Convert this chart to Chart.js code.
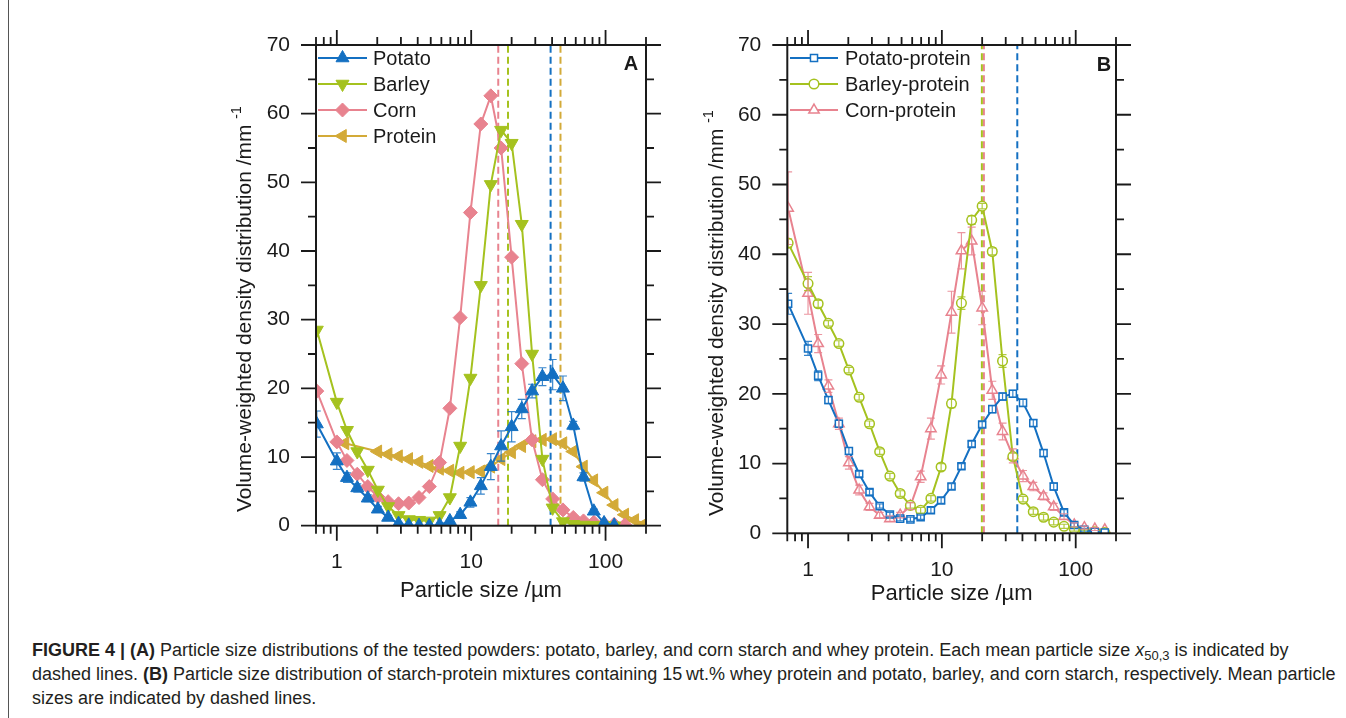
<!DOCTYPE html>
<html>
<head>
<meta charset="utf-8">
<script src="https://cdn.jsdelivr.net/npm/chart.js@4.4.1/dist/chart.umd.min.js"></script>
<style>
  html, body { margin: 0; padding: 0; background: #fff; }
  body { width: 1346px; height: 718px; position: relative; overflow: hidden; font-family: "Liberation Sans", Arial, sans-serif; }
  #frame { position: absolute; left: 8px; top: 0; height: 718px; border-left: 1.5px solid #555; }
  canvas { position: absolute; top: 0; }
  #chartA { left: 230px; }
  #chartB { left: 700px; }
  #caption { position: absolute; left: 32px; top: 638px; font-size: 18px; line-height: 24px; color: #231f20; white-space: nowrap; }
  #caption sub { font-size: 13px; vertical-align: -4px; line-height: 0; }
</style>
</head>
<body>
<div id="frame"></div>
<canvas id="chartA" width="440" height="610"></canvas>
<canvas id="chartB" width="440" height="610"></canvas>
<div id="caption">
<b>FIGURE 4 | (A)</b> Particle size distributions of the tested powders: potato, barley, and corn starch and whey protein. Each mean particle size <i>x</i><sub>50,3</sub> is indicated by<br>
dashed lines. <b>(B)</b> Particle size distribution of starch-protein mixtures containing 15&#8201;wt.% whey protein and potato, barley, and corn starch, respectively. Mean particle<br>
sizes are indicated by dashed lines.
</div>
<script>
const family = '"Liberation Sans", Arial, sans-serif';
Chart.defaults.font.family = family;
Chart.defaults.color = '#1a1a1a';

// axis limits and labelled ticks
const xRange = [0.7, 200];
const yRange = [0, 70];
const xTickLabels = [1, 10, 100];
const yTickLabels = [0, 10, 20, 30, 40, 50, 60, 70];

// particle size classes /µm
const sizeBins = [0.71, 1.00, 1.19, 1.42, 1.70, 2.02, 2.41, 2.88, 3.43, 4.09, 4.88, 5.82, 6.94, 8.28, 9.87, 11.8,
  14.0, 16.7, 20.0, 23.8, 28.4, 33.9, 40.4, 48.2, 57.5, 68.5, 81.8, 97.5, 116, 139, 165, 197];
// whey protein classes
const proteinSizes = [1.15, 2.02, 2.41, 2.88, 3.43, 4.09, 4.88, 5.82, 6.94, 8.28, 9.87, 11.8, 14.0, 16.7,
  20.0, 23.8, 28.4, 33.9, 40.4, 48.2, 57.5, 68.5, 81.8, 97.5, 116, 139, 165, 197];

// A: starches and whey protein, density /mm^-1
const potato = [14.8, 9.4, 7.0, 5.5, 4.0, 2.4, 1.2, 0.3, 0.05, 0, 0, 0.1, 0.7, 1.6, 3.4, 5.8,
  8.6, 11.6, 14.4, 17.0, 19.6, 21.7, 22.0, 20.0, 14.6, 7.1, 2.1, 0.4, 0.05, null, null, null];
const potatoErr = [1.9, 1.2, 0.7, 0.6, 0.5, 0.4, 0.3, 0.2, 0.1, 0, 0, 0.1, 0.2, 0.4, 0.7, 1.2,
  1.9, 2.2, 2.2, 1.4, 1.0, 1.3, 2.2, 1.8, 0.6, 0.6, 0.3, 0.2, 0.1, 0, 0, 0];
const barley = [28.5, 18.0, 13.9, 10.8, 8.1, 5.2, 2.8, 1.5, 0.9, 0.8, 0.7, 1.5, 4.1, 11.6, 21.5, 35.0,
  49.7, 57.6, 55.7, 43.9, 25.0, 9.7, 2.6, 0.6, 0.2, 0.1, 0.05, 0, 0, null, null, null];
const corn = [19.6, 12.2, 9.5, 7.5, 5.7, 4.2, 3.5, 3.2, 3.3, 4.1, 5.7, 9.2, 17.1, 30.3, 45.6, 58.5,
  62.6, 55.0, 39.1, 23.6, 12.5, 6.7, 3.9, 2.3, 1.2, 0.7, 0.5, 0.3, 0.2, 0.1, null, null];
const protein = [12.0, 10.8, 10.4, 10.1, 9.7, 9.3, 8.7, 8.3, 8.0, 7.7, 7.8, 7.9, 8.6, 9.7,
  10.7, 11.6, 12.3, 12.5, 12.6, 12.0, 10.8, 8.6, 6.6, 4.8, 3.0, 1.6, 0.8, 0.3];
// x50,3 of potato, barley, corn, protein
const x50A = [39.0, 18.8, 15.9, 46.2];

// B: starch with 15 wt.% whey protein
const potatoProt = [32.9, 26.5, 22.6, 19.1, 15.7, 11.8, 8.5, 5.9, 3.9, 2.7, 2.1, 2.0, 2.3, 3.3, 4.7, 6.7,
  9.6, 12.8, 15.6, 17.8, 19.6, 20.0, 18.7, 15.8, 11.5, 6.7, 3.0, 1.2, 0.5, 0.2, 0.1, null];
const potatoProtErr = [1.5, 1.0, 0.7, 0.5, 0.5, 0.5, 0.4, 0.4, 0.3, 0.3, 0.3, 0.3, 0.3, 0.4, 0.4, 0.4,
  0.4, 0.4, 0.4, 0.5, 0.5, 0.5, 0.5, 0.5, 0.5, 0.5, 0.4, 0.3, 0.2, 0.1, 0.1, 0];
const barleyProt = [41.6, 35.8, 32.9, 30.1, 27.2, 23.4, 19.5, 15.7, 11.7, 8.2, 5.7, 4.0, 3.3, 5.0, 9.5, 18.6,
  33.0, 44.9, 46.9, 40.4, 24.7, 11.0, 4.9, 3.1, 2.3, 1.6, 1.0, 0.6, 0.3, 0.2, 0.1, null];
const barleyProtErr = [0.6, 1.0, 0.5, 0.4, 0.4, 0.4, 0.4, 0.4, 0.4, 0.4, 0.4, 0.4, 0.4, 0.4, 0.5, 0.6,
  0.9, 0.6, 0.4, 0.5, 0.9, 0.5, 0.4, 0.4, 0.4, 0.4, 0.3, 0.3, 0.2, 0.1, 0.1, 0];
const cornProt = [46.6, 34.4, 27.2, 21.1, 15.7, 10.1, 6.2, 3.8, 2.6, 2.1, 2.6, 3.9, 8.1, 15.0, 22.7, 31.7,
  40.5, 41.9, 32.3, 20.5, 14.6, 11.1, 8.2, 6.7, 5.3, 3.8, 2.4, 1.2, 0.8, 0.6, 0.5, null];
const cornProtErr = [5.2, 3.0, 1.3, 0.9, 0.8, 0.9, 0.7, 0.5, 0.4, 0.4, 0.4, 0.5, 0.8, 1.5, 1.3, 3.0,
  2.6, 2.0, 2.4, 1.3, 1.2, 1.0, 0.8, 0.6, 0.5, 0.5, 0.4, 0.3, 0.2, 0.2, 0.1, 0];
// x50,3 of potato-, barley-, corn-protein
const x50B = [36.6, 19.9, 20.6];

const blue = '#1470c2', green = '#a5c21f', pink = '#e8838f', gold = '#d3aa38';

const isDecade = v => Math.abs(Math.log10(v) - Math.round(Math.log10(v))) < 1e-9;

// frame, mirrored ticks, key, rotated y title and panel letter
const panelDecor = {
  id: 'panelDecor',
  afterDraw(chart, args, o) {
    const {ctx, chartArea: a, scales: {x, y}} = chart;
    ctx.save();
    ctx.strokeStyle = '#1a1a1a';
    ctx.lineWidth = 2;
    ctx.strokeRect(a.left, a.top, a.right - a.left, a.bottom - a.top);
    ctx.lineWidth = 1.8;
    ctx.beginPath();
    x.ticks.forEach(t => {
      const px = x.getPixelForValue(t.value);
      const len = isDecade(t.value) ? 15 : 8;
      ctx.moveTo(px, a.bottom); ctx.lineTo(px, a.bottom + len);
      ctx.moveTo(px, a.top); ctx.lineTo(px, a.top - len);
    });
    y.ticks.forEach(t => {
      const py = y.getPixelForValue(t.value);
      const len = yTickLabels.includes(t.value) ? 15 : 8;
      ctx.moveTo(a.left, py); ctx.lineTo(a.left - len, py);
      ctx.moveTo(a.right, py); ctx.lineTo(a.right + len, py);
    });
    ctx.stroke();

    // key
    const k = o.key;
    ctx.textBaseline = 'middle';
    ctx.textAlign = 'left';
    ctx.font = '20px ' + family;
    let row = 0;
    chart.data.datasets.forEach(ds => {
      if (!ds.key) return;
      const cy = k.y + row * k.dy;
      ctx.strokeStyle = ds.borderColor;
      ctx.lineWidth = 2;
      ctx.beginPath();
      ctx.moveTo(k.x, cy); ctx.lineTo(k.x + k.len, cy);
      ctx.stroke();
      ctx.fillStyle = ds.pointBackgroundColor;
      ctx.lineWidth = ds.pointBorderWidth;
      Chart.helpers.drawPoint(ctx, {
        pointStyle: ds.pointStyle, rotation: ds.pointRotation,
        radius: ds.pointRadius, borderWidth: ds.pointBorderWidth
      }, k.x + k.len / 2, cy);
      ctx.fillStyle = '#1a1a1a';
      ctx.fillText(ds.label, k.textX, cy + 1);
      row++;
    });

    // panel letter
    ctx.font = 'bold 20px ' + family;
    ctx.textAlign = 'center';
    ctx.fillText(o.letter, o.letterX, o.letterY);

    // y title with superscript unit
    ctx.translate(o.titleX, o.titleY);
    ctx.rotate(-Math.PI / 2);
    ctx.textAlign = 'left';
    ctx.font = '21px ' + family;
    const main = 'Volume-weighted density distribution /mm';
    ctx.fillText(main, 0, 0);
    const w = ctx.measureText(main + ' ').width;
    ctx.font = '14px ' + family;
    ctx.fillText('-1', w, -8);
    ctx.restore();
  }
};

// vertical error bars, stored per point as e
const errorBars = {
  id: 'errorBars',
  afterDatasetsDraw(chart) {
    const {ctx, chartArea: a, scales: {y}} = chart;
    ctx.save();
    ctx.beginPath();
    ctx.rect(a.left, a.top, a.right - a.left, a.bottom - a.top);
    ctx.clip();
    chart.data.datasets.forEach((ds, i) => {
      if (!ds.key) return;
      const meta = chart.getDatasetMeta(i);
      ctx.strokeStyle = ds.borderColor;
      ctx.globalAlpha = 0.85;
      ctx.lineWidth = 1.2;
      ctx.beginPath();
      ds.data.forEach((p, j) => {
        if (!p.e || p.e < 0.15) return;
        const px = meta.data[j].x;
        const t = y.getPixelForValue(p.y + p.e);
        const b = y.getPixelForValue(p.y - p.e);
        ctx.moveTo(px, t); ctx.lineTo(px, b);
        ctx.moveTo(px - 4, t); ctx.lineTo(px + 4, t);
        ctx.moveTo(px - 4, b); ctx.lineTo(px + 4, b);
      });
      ctx.stroke();
    });
    ctx.restore();
  }
};

function points(sizes, values, errors) {
  return sizes.map((s, i) => ({x: s, y: values[i], e: errors ? errors[i] : 0}))
    .filter(p => p.y !== null);
}

function buildChart(id, series, means, deco) {
  const datasets = series.map((s, i) => ({
    label: s.label,
    data: points(s.sizes, s.values, s.errors),
    key: true,
    order: i,
    borderColor: s.color,
    backgroundColor: s.color,
    borderWidth: 2,
    tension: 0,
    pointStyle: s.marker,
    pointRotation: s.rotation || 0,
    pointRadius: s.radius,
    pointBackgroundColor: s.fill,
    pointBorderColor: s.color,
    pointBorderWidth: s.markerWidth
  }));
  means.forEach((m, i) => datasets.push({
    label: '',
    data: [{x: m, y: yRange[0]}, {x: m, y: yRange[1]}],
    order: 10 + i,
    borderColor: series[i].color,
    borderWidth: 2,
    borderDash: [7, 4],
    pointRadius: 0
  }));

  return new Chart(document.getElementById(id), {
    type: 'line',
    data: {datasets},
    options: {
      responsive: false,
      animation: false,
      devicePixelRatio: 1,
      events: [],
      layout: {padding: {top: 45, right: deco.padRight, left: 0, bottom: 0}},
      plugins: {legend: {display: false}, tooltip: {enabled: false}, panelDecor: deco},
      scales: {
        x: {
          type: 'logarithmic',
          min: xRange[0],
          max: xRange[1],
          grid: {display: false, drawTicks: false},
          border: {display: false},
          afterBuildTicks: scale => {
            const ticks = [];
            for (let d = 0.1; d < xRange[1]; d *= 10) {
              for (let m = 1; m <= 9; m++) {
                const v = Math.round(m * d * 1000) / 1000;
                if (v >= xRange[0] && v <= xRange[1]) ticks.push({value: v});
              }
            }
            scale.ticks = ticks;
          },
          ticks: {
            autoSkip: false, maxRotation: 0, minRotation: 0, padding: 24,
            font: {size: 21},
            callback: v => xTickLabels.includes(v) ? String(v) : ''
          },
          title: {display: true, text: 'Particle size /µm', font: {size: 22}, padding: {top: 0, bottom: deco.xTitlePad}},
          afterFit: scale => { scale.height = deco.xHeight; }
        },
        y: {
          type: 'linear',
          min: yRange[0],
          max: yRange[1],
          grid: {display: false, drawTicks: false},
          border: {display: false},
          ticks: {
            stepSize: 5, padding: 26, font: {size: 21},
            callback: v => yTickLabels.includes(v) ? String(v) : ''
          },
          afterFit: scale => { scale.width = deco.yWidth; }
        }
      }
    },
    plugins: [errorBars, panelDecor]
  });
}

buildChart('chartA', [
  {label: 'Potato', sizes: sizeBins, values: potato, errors: potatoErr, color: blue, fill: blue,
    marker: 'triangle', radius: 7.5, markerWidth: 1},
  {label: 'Barley', sizes: sizeBins, values: barley, color: green, fill: green,
    marker: 'triangle', rotation: 180, radius: 7.5, markerWidth: 1},
  {label: 'Corn', sizes: sizeBins, values: corn, color: pink, fill: pink,
    marker: 'rectRot', radius: 7, markerWidth: 1},
  {label: 'Protein', sizes: proteinSizes, values: protein, color: gold, fill: gold,
    marker: 'triangle', rotation: -90, radius: 7.5, markerWidth: 1}
], x50A, {
  padRight: 21, yWidth: 86, xHeight: 84.3, xTitlePad: 6,
  key: {x: 88, y: 58, dy: 26, len: 49, textX: 143},
  letter: 'A', letterX: 401, letterY: 64,
  titleX: 15, titleY: 512
});

buildChart('chartB', [
  {label: 'Potato-protein', sizes: sizeBins, values: potatoProt, errors: potatoProtErr, color: blue, fill: '#fff',
    marker: 'rect', radius: 5, markerWidth: 1.5},
  {label: 'Barley-protein', sizes: sizeBins, values: barleyProt, errors: barleyProtErr, color: green, fill: '#fff',
    marker: 'circle', radius: 4.8, markerWidth: 1.5},
  {label: 'Corn-protein', sizes: sizeBins, values: cornProt, errors: cornProtErr, color: pink, fill: '#fff',
    marker: 'triangle', radius: 6, markerWidth: 1.5}
], x50B, {
  padRight: 19.3, yWidth: 87.3, xHeight: 76.7, xTitlePad: 3,
  key: {x: 90, y: 58, dy: 26, len: 48, textX: 145},
  letter: 'B', letterX: 404, letterY: 65,
  titleX: 17, titleY: 516
});
</script>
</body>
</html>
